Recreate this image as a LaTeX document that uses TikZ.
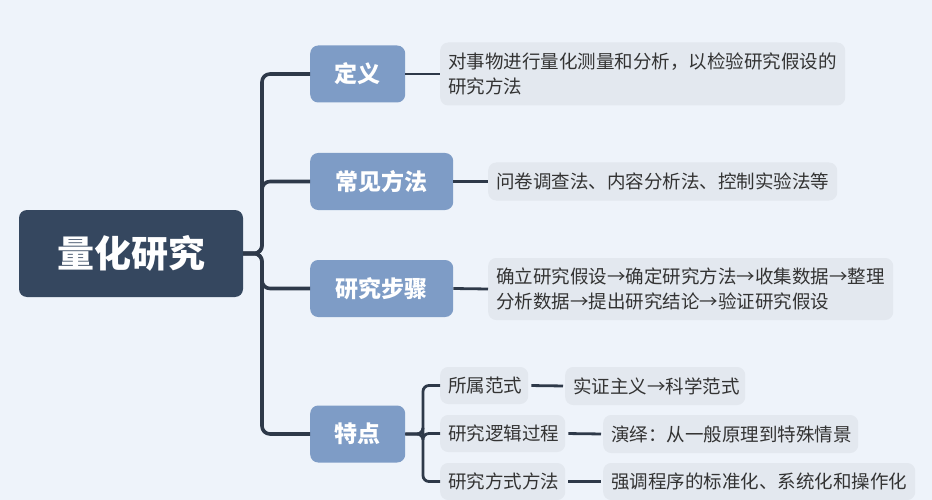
\documentclass[tikz,border=0pt]{standalone}
\usepackage{fontspec}
\setmainfont{Noto Sans CJK SC}[BoldFont={Noto Sans CJK SC Black}]
\definecolor{bgc}{HTML}{EEF3FA}
\definecolor{rootc}{HTML}{35475F}
\definecolor{branchc}{HTML}{7E9CC6}
\definecolor{leafc}{HTML}{E3E8EF}
\definecolor{linec}{HTML}{2E3949}
\definecolor{textc}{HTML}{333333}
\begin{document}
\begin{tikzpicture}[x=1pt,y=-1pt,
  trunk/.style={draw=linec, line width=3.6pt, rounded corners=8pt},
  sline/.style={draw=linec, line width=2.8pt, rounded corners=6pt},
  rootbox/.style={fill=rootc, rounded corners=8pt, text=white, font=\fontsize{37}{40}\selectfont\bfseries, minimum width=224pt, minimum height=87pt, inner sep=0pt},
  branch/.style={fill=branchc, rounded corners=8pt, text=white, font=\fontsize{23}{26}\selectfont\bfseries, minimum height=57pt, inner sep=0pt, anchor=west},
  leaf/.style={fill=leafc, rounded corners=8pt, text=textc, font=\fontsize{18.5}{25}\selectfont, align=left, anchor=west, inner xsep=8pt, inner ysep=0pt},
]
\fill[bgc] (0,0) rectangle (932,500);
\useasboundingbox (0,0) rectangle (932,500);

\node[rootbox] (root) at (131,253.5) {量化研究};

\node[branch, minimum width=95pt] (b1) at (310,74) {定义};
\node[branch, minimum width=143pt] (b2) at (310,181.5) {常见方法};
\node[branch, minimum width=143pt] (b3) at (310,288.5) {研究步骤};
\node[branch, minimum width=95pt] (b4) at (310,434) {特点};

\node[leaf, text width=389pt, minimum height=63pt] (l1) at (440,74) {对事物进行量化测量和分析，以检验研究假设的\\研究方法};
\node[leaf, text width=333pt, minimum height=38pt] (l2) at (488,181.5) {问卷调查法、内容分析法、控制实验法等};
\node[leaf, text width=389pt, minimum height=62pt] (l3) at (488,289) {确立研究假设→确定研究方法→收集数据→整理\\分析数据→提出研究结论→验证研究假设};

\node[leaf, text width=72pt, minimum height=37pt] (s1) at (440,385.5) {所属范式};
\node[leaf, text width=109pt, minimum height=37pt] (s2) at (440,433.5) {研究逻辑过程};
\node[leaf, text width=109pt, minimum height=37pt] (s3) at (440,481.5) {研究方式方法};

\node[leaf, text width=164pt, minimum height=38pt] (t1) at (565,386) {实证主义→科学范式};
\node[leaf, text width=239pt, minimum height=38pt] (t2) at (603,434) {演绎：从一般原理到特殊情景};
\node[leaf, text width=296pt, minimum height=37pt] (t3) at (603,481.5) {强调程序的标准化、系统化和操作化};

\coordinate (tx) at (262,253.5);
\foreach \b in {b1,b2,b3,b4} {
  \draw[trunk] (root.east) -- (tx) |- (\b.west);
}

\draw[sline] (b1.east) -- (l1.west);
\draw[sline] (b2.east) -- (l2.west);
\draw[sline] (b3.east) -- (l3.west);

\coordinate (sx) at (423,434);
\foreach \s in {s1,s2,s3} {
  \draw[sline] (b4.east) -- (sx) |- (\s.west);
}

\draw[sline, shorten <=3pt, shorten >=2pt] (s1.east) -- (t1.west);
\draw[sline, shorten <=3pt, shorten >=2pt] (s2.east) -- (t2.west);
\draw[sline, shorten <=3pt, shorten >=2pt] (s3.east) -- (t3.west);
\end{tikzpicture}
\end{document}
